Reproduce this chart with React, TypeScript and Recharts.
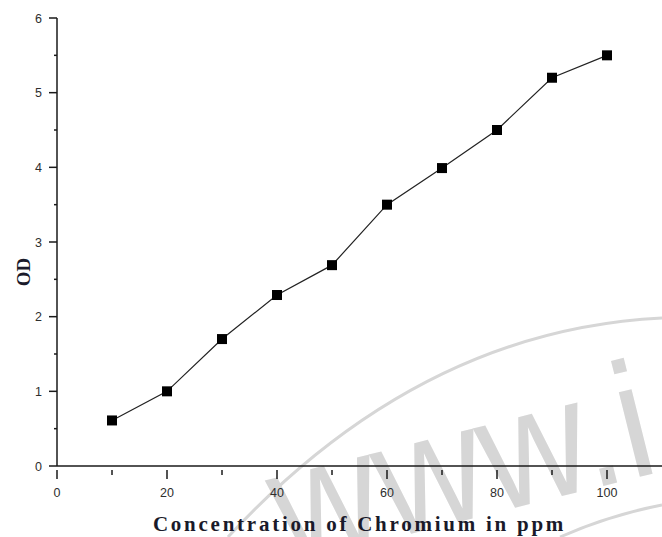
import { LineChart, Line, XAxis, YAxis, Label } from 'recharts';

const concentration = [10, 20, 30, 40, 50, 60, 70, 80, 90, 100];
const odValues = [0.61, 1.0, 1.7, 2.29, 2.69, 3.5, 3.99, 4.5, 5.2, 5.5];
const xTicks = [0, 10, 20, 30, 40, 50, 60, 70, 80, 90, 100];
const yTicks = [0, 0.5, 1, 1.5, 2, 2.5, 3, 3.5, 4, 4.5, 5, 5.5, 6];

const data = concentration.map((c, i) => ({ c, od: odValues[i] }));

const AXIS = '#1a1a1a';
const TICK_TEXT = '#2e2e2e';
const TICK_SIZE = 8;
const TICK_MARGIN = 7;

function YTick(props: any) {
  const { x, y, payload } = props;
  const axisX = x + TICK_SIZE + TICK_MARGIN;
  const major = Number.isInteger(payload.value);
  return (
    <g>
      <line x1={axisX} x2={axisX - (major ? 8 : 3)} y1={y} y2={y} stroke={AXIS} strokeWidth={1.5} />
      {major && (
        <text x={x} y={y} dy={4.5} textAnchor="end" fontSize={12.5} fill={TICK_TEXT} fontFamily="Liberation Sans, Arial, sans-serif">
          {payload.value}
        </text>
      )}
    </g>
  );
}

function XTick(props: any) {
  const { x, y, payload } = props;
  const axisY = y - TICK_SIZE - TICK_MARGIN + 4;
  const major = payload.value % 20 === 0;
  return (
    <g>
      <line x1={x} x2={x} y1={axisY} y2={axisY + (major ? 9 : 5)} stroke={AXIS} strokeWidth={1.5} />
      {major && (
        <text x={x} y={axisY + 27} textAnchor="middle" fontSize={12.5} fill={TICK_TEXT} fontFamily="Liberation Sans, Arial, sans-serif">
          {payload.value}
        </text>
      )}
    </g>
  );
}

function SquareDot(props: any) {
  const { cx, cy, index } = props;
  return <rect key={index} x={cx - 5} y={cy - 5} width={10} height={10} fill="#000" />;
}

export default function App() {
  return (
    <div style={{ position: 'absolute', left: 0, top: 0, width: 662, height: 537, background: '#fff', overflow: 'hidden' }}>
      <svg width={662} height={537} style={{ position: 'absolute', left: 0, top: 0 }}>
        <path d="M 228 537 Q 420 330 662 318" fill="none" stroke="#d6d6d6" strokeWidth={3} />
        <path d="M 560 537 Q 610 515 662 505" fill="none" stroke="#d6d6d6" strokeWidth={3} />
        <text
          x={0}
          y={0}
          fontSize={165}
          fontFamily="Liberation Sans, Arial, sans-serif"
          fill="#d6d6d6"
          transform="translate(286 565) rotate(-14) scale(0.9 1)"
        >
          www.i
        </text>
      </svg>
      <div style={{ position: 'absolute', left: 0, top: 0 }}>
        <LineChart width={662} height={537} data={data} margin={{ top: 18, right: 0, bottom: 0, left: 0 }}>
          <XAxis
            dataKey="c"
            type="number"
            domain={[0, 110]}
            ticks={xTicks}
            height={71}
            tickSize={TICK_SIZE}
            tickMargin={TICK_MARGIN}
            tickLine={false}
            tick={<XTick />}
            stroke={AXIS}
            strokeWidth={1.5}
            interval={0}
            allowDataOverflow
          >
            <Label
              value="Concentration of Chromium in ppm"
              position="insideBottom"
              offset={6}
              style={{ fontFamily: 'Liberation Serif, Times New Roman, serif', fontWeight: 'bold', fontSize: 21, letterSpacing: 2.75, fill: '#1a1a2a' }}
            />
          </XAxis>
          <YAxis
            type="number"
            domain={[0, 6]}
            ticks={yTicks}
            width={57}
            tickSize={TICK_SIZE}
            tickMargin={TICK_MARGIN}
            tickLine={false}
            tick={<YTick />}
            stroke={AXIS}
            strokeWidth={1.5}
            interval={0}
          >
            <Label
              content={(p: any) => {
                const vb = p.viewBox;
                const cx = vb.x + 23;
                const cy = vb.y + vb.height / 2 + 30;
                return (
                  <text
                    x={cx}
                    y={cy}
                    transform={`rotate(-90 ${cx} ${cy})`}
                    textAnchor="middle"
                    dominantBaseline="central"
                    fontFamily="Liberation Serif, Times New Roman, serif"
                    fontWeight="bold"
                    fontSize={19}
                    fill="#1a1a2a"
                  >
                    OD
                  </text>
                );
              }}
            />
          </YAxis>
          <Line
            type="linear"
            dataKey="od"
            stroke="#222"
            strokeWidth={1.2}
            dot={<SquareDot />}
            activeDot={false}
            isAnimationActive={false}
          />
        </LineChart>
      </div>
    </div>
  );
}
